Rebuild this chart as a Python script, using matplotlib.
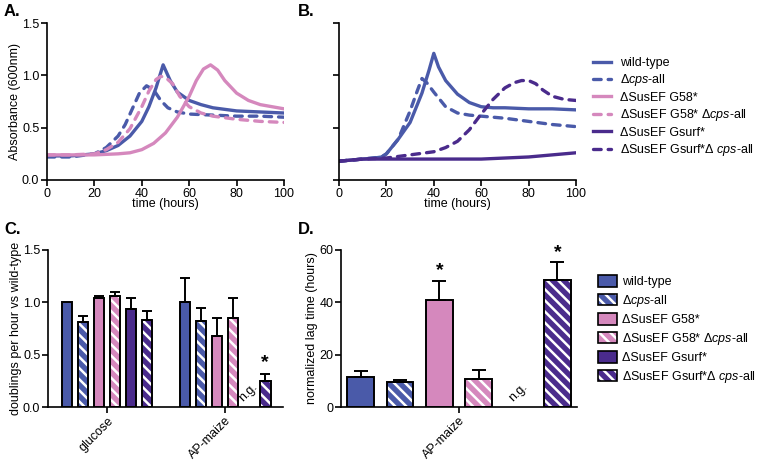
import numpy as np
import matplotlib
matplotlib.use("Agg")
import matplotlib.pyplot as plt
from matplotlib.lines import Line2D
from matplotlib.patches import Patch

plt.rcParams['font.family'] = ['Liberation Sans', 'DejaVu Sans']
plt.rcParams['mathtext.fontset'] = 'custom'
plt.rcParams['mathtext.rm'] = 'Liberation Sans'
plt.rcParams['mathtext.it'] = 'Liberation Sans:italic'
plt.rcParams['hatch.linewidth'] = 1.8

# ---------------- data ----------------
strains = ['wild-type', r'Δ$\it{cps}$-all', 'ΔSusEF G58*', r'ΔSusEF G58* Δ$\it{cps}$-all',
           'ΔSusEF Gsurf*', r'ΔSusEF Gsurf*Δ $\it{cps}$-all']

# Panel A growth curves
a_wt_t = [0, 10, 20, 25, 30, 35, 40, 43, 46, 49, 52, 55, 60, 65, 70, 80, 90, 100]
a_wt_y = [0.23, 0.23, 0.25, 0.28, 0.33, 0.42, 0.56, 0.70, 0.88, 1.10, 0.95, 0.84, 0.76, 0.72, 0.69, 0.66, 0.65, 0.64]
a_cps_t = [0, 10, 20, 25, 30, 33, 36, 39, 42, 45, 48, 51, 55, 60, 70, 80, 90, 100]
a_cps_y = [0.22, 0.22, 0.25, 0.31, 0.42, 0.53, 0.68, 0.83, 0.90, 0.86, 0.76, 0.69, 0.65, 0.63, 0.62, 0.61, 0.61, 0.60]
a_g58_t = [0, 10, 20, 30, 35, 40, 45, 50, 55, 60, 63, 66, 69, 72, 75, 80, 85, 90, 100]
a_g58_y = [0.24, 0.24, 0.24, 0.25, 0.26, 0.29, 0.35, 0.45, 0.60, 0.80, 0.95, 1.06, 1.10, 1.05, 0.95, 0.83, 0.76, 0.72, 0.68]
a_g58cps_t = [0, 10, 20, 25, 30, 35, 40, 43, 46, 48, 50, 53, 56, 60, 65, 70, 80, 90, 100]
a_g58cps_y = [0.24, 0.24, 0.25, 0.29, 0.36, 0.49, 0.70, 0.85, 0.96, 0.99, 0.98, 0.92, 0.80, 0.70, 0.64, 0.61, 0.58, 0.56, 0.55]

# Panel B growth curves
b_wt_t = [0, 5, 10, 15, 18, 20, 25, 30, 35, 38, 40, 42, 45, 50, 55, 60, 65, 70, 80, 90, 100]
b_wt_y = [0.18, 0.19, 0.20, 0.21, 0.22, 0.25, 0.39, 0.55, 0.83, 1.05, 1.21, 1.08, 0.95, 0.82, 0.74, 0.70, 0.69, 0.69, 0.68, 0.68, 0.67]
b_cps_t = [0, 10, 18, 20, 25, 30, 33, 35, 37, 40, 45, 50, 55, 60, 70, 80, 90, 100]
b_cps_y = [0.18, 0.20, 0.22, 0.25, 0.39, 0.66, 0.85, 0.97, 0.93, 0.84, 0.70, 0.64, 0.62, 0.61, 0.59, 0.56, 0.53, 0.51]
b_gs_t = [0, 5, 10, 20, 30, 40, 50, 60, 70, 80, 90, 100]
b_gs_y = [0.18, 0.19, 0.20, 0.20, 0.20, 0.20, 0.20, 0.20, 0.21, 0.22, 0.24, 0.26]
b_gscps_t = [0, 10, 20, 30, 40, 45, 50, 55, 60, 65, 70, 74, 77, 80, 83, 86, 90, 95, 100]
b_gscps_y = [0.18, 0.20, 0.21, 0.24, 0.27, 0.31, 0.37, 0.48, 0.63, 0.77, 0.88, 0.93, 0.95, 0.95, 0.92, 0.86, 0.80, 0.77, 0.76]

# Panel C: doublings per hour vs wild-type (None = no growth)
c_groups = ['glucose', 'AP-maize']
c_glucose = [1.00, 0.81, 1.04, 1.06, 0.94, 0.83]
c_glucose_err = [0.0, 0.06, 0.025, 0.04, 0.10, 0.09]
c_maize = [1.00, 0.82, 0.68, 0.85, None, 0.245]
c_maize_err = [0.23, 0.13, 0.17, 0.19, 0.0, 0.075]

# Panel D: normalized lag time
d_group = 'AP-maize'
d_lag = [11.5, 9.4, 40.8, 10.6, None, 48.5]
d_lag_err = [2.3, 1.0, 7.3, 3.4, 0.0, 6.8]
d_sig = [False, False, True, False, False, True]

# ---------------- style ----------------
BLUE = '#4a5aa9'
PINK = '#d588bd'
PURP = '#4a2b8c'
colors = [BLUE, BLUE, PINK, PINK, PURP, PURP]
hatched = [False, True, False, True, False, True]
dashed = hatched

FS = 9
fig = plt.figure(figsize=(7.6, 4.66), dpi=100)

def style_ax(ax):
    for s in ['top', 'right']:
        ax.spines[s].set_visible(False)
    for s in ['left', 'bottom']:
        ax.spines[s].set_linewidth(1.2)
    ax.tick_params(width=1.2, length=4, labelsize=FS, pad=1.5)

W = 760.0; H = 466.0
def rect(l, r, t, b):
    return [l / W, 1 - b / H, (r - l) / W, (b - t) / H]

axA = fig.add_axes(rect(47, 284, 23, 180))
axB = fig.add_axes(rect(339, 576, 23, 180))
axC = fig.add_axes(rect(48, 283, 250, 407))
axD = fig.add_axes(rect(341, 577, 250, 407))

LW = 2.4
DASH = (2.3, 2.1)
a_series = [(a_wt_t, a_wt_y), (a_cps_t, a_cps_y), (a_g58_t, a_g58_y), (a_g58cps_t, a_g58cps_y)]
for i, (t, y) in enumerate(a_series):
    ls = (0, DASH) if dashed[i] else '-'
    axA.plot(t, y, color=colors[i], lw=LW, linestyle=ls, solid_capstyle='round', dash_capstyle='round')
b_series = [(b_wt_t, b_wt_y, 0), (b_cps_t, b_cps_y, 1), (b_gs_t, b_gs_y, 4), (b_gscps_t, b_gscps_y, 5)]
for t, y, i in b_series:
    ls = (0, DASH) if dashed[i] else '-'
    axB.plot(t, y, color=colors[i], lw=LW, linestyle=ls, solid_capstyle='round', dash_capstyle='round')

for ax in (axA, axB):
    style_ax(ax)
    ax.set_xlim(0, 100)
    ax.set_ylim(0, 1.5)
    ax.set_xticks([0, 20, 40, 60, 80, 100])
    ax.set_yticks([0, 0.5, 1.0, 1.5])
    ax.set_xlabel('time (hours)', fontsize=FS, labelpad=-1)
axA.set_yticklabels(['0.0', '0.5', '1.0', '1.5'])
axB.set_yticklabels([])
axA.set_ylabel('Absorbance (600nm)', fontsize=FS, labelpad=1)

# legend for A/B
lhandles = []
for i in range(6):
    ls = (0, DASH) if dashed[i] else '-'
    lhandles.append(Line2D([], [], color=colors[i], lw=LW, linestyle=ls, dash_capstyle='round'))
fig.legend(lhandles, strains, loc='upper left', bbox_to_anchor=(593 / W, 1 - 57 / H),
           frameon=False, fontsize=FS, handlelength=1.45, handletextpad=0.7,
           labelspacing=0.27, borderpad=0, borderaxespad=0)

# bar drawing helper
def draw_bar(ax, x, h, w, i):
    if hatched[i]:
        ax.bar(x, h, w, color=colors[i], edgecolor='white', hatch='\\\\\\', linewidth=0, zorder=2)
        ax.bar(x, h, w, fill=False, edgecolor='black', linewidth=1.4, zorder=3)
    else:
        ax.bar(x, h, w, color=colors[i], edgecolor='black', linewidth=1.4, zorder=3)

# Panel C
step = 16 / 118.0
bw = 10.7 / 118.0
for g, (vals, errs) in enumerate([(c_glucose, c_glucose_err), (c_maize, c_maize_err)]):
    for i in range(6):
        x = g + (i - 2.5) * step
        if vals[i] is None:
            axC.text(x - 0.01, 0.03, 'n.g.', rotation=45, fontsize=FS, ha='center', va='bottom')
            continue
        draw_bar(axC, x, vals[i], bw, i)
        if errs[i] > 0:
            axC.errorbar(x, vals[i], yerr=[[0], [errs[i]]], fmt='none', ecolor='black',
                         elinewidth=1.4, capsize=3.5, capthick=1.4, zorder=4)
axC.text(1 + 2.5 * step, c_maize[5] + c_maize_err[5] + 0.02, '*', fontsize=14,
         ha='center', va='bottom', fontweight='bold')
style_ax(axC)
axC.set_xlim(-0.5, 1.49)
axC.set_ylim(0, 1.5)
axC.set_yticks([0, 0.5, 1.0, 1.5])
axC.set_yticklabels(['0.0', '0.5', '1.0', '1.5'])
axC.set_xticks([0, 1])
axC.set_xticklabels(c_groups, rotation=45, ha='right', rotation_mode='anchor', fontsize=FS)
axC.set_ylabel('doublings per hour vs wild-type', fontsize=FS, labelpad=1)

# Panel D
dw = 0.68
for i in range(6):
    x = i - 2.5
    if d_lag[i] is None:
        axD.text(x, 1.0, 'n.g.', rotation=45, fontsize=FS, ha='center', va='bottom')
        continue
    draw_bar(axD, x, d_lag[i], dw, i)
    axD.errorbar(x, d_lag[i], yerr=[[0], [d_lag_err[i]]], fmt='none', ecolor='black',
                 elinewidth=1.4, capsize=5, capthick=1.4, zorder=4)
    if d_sig[i]:
        axD.text(x, d_lag[i] + d_lag_err[i] + 0.6, '*', fontsize=14, ha='center', va='bottom',
                 fontweight='bold')
style_ax(axD)
axD.set_xlim(-3, 3)
axD.set_ylim(0, 60)
axD.set_yticks([0, 20, 40, 60])
axD.set_xticks([0])
axD.set_xticklabels([d_group], rotation=45, ha='right', rotation_mode='anchor', fontsize=FS)
axD.set_ylabel('normalized lag time (hours)', fontsize=FS, labelpad=1)

# legend for D
phandles = []
for i in range(6):
    if hatched[i]:
        phandles.append((Patch(facecolor=colors[i], edgecolor='white', hatch='\\\\\\', linewidth=0),
                         Patch(fill=False, edgecolor='black', linewidth=1.2)))
    else:
        phandles.append(Patch(facecolor=colors[i], edgecolor='black', linewidth=1.2))
fig.legend(phandles, strains, loc='upper left', bbox_to_anchor=(598 / W, 1 - 275 / H),
           frameon=False, fontsize=FS, handlelength=1.5, handleheight=1.05, handletextpad=0.45,
           labelspacing=0.36, borderpad=0, borderaxespad=0)

# panel letters
for lab, x, y in [('A.', 4, 11), ('B.', 298, 11), ('C.', 4, 229), ('D.', 298, 229)]:
    fig.text(x / W, 1 - y / H, lab, fontsize=12, fontweight='bold', ha='left', va='center')

fig.savefig('out.png', dpi=100)
